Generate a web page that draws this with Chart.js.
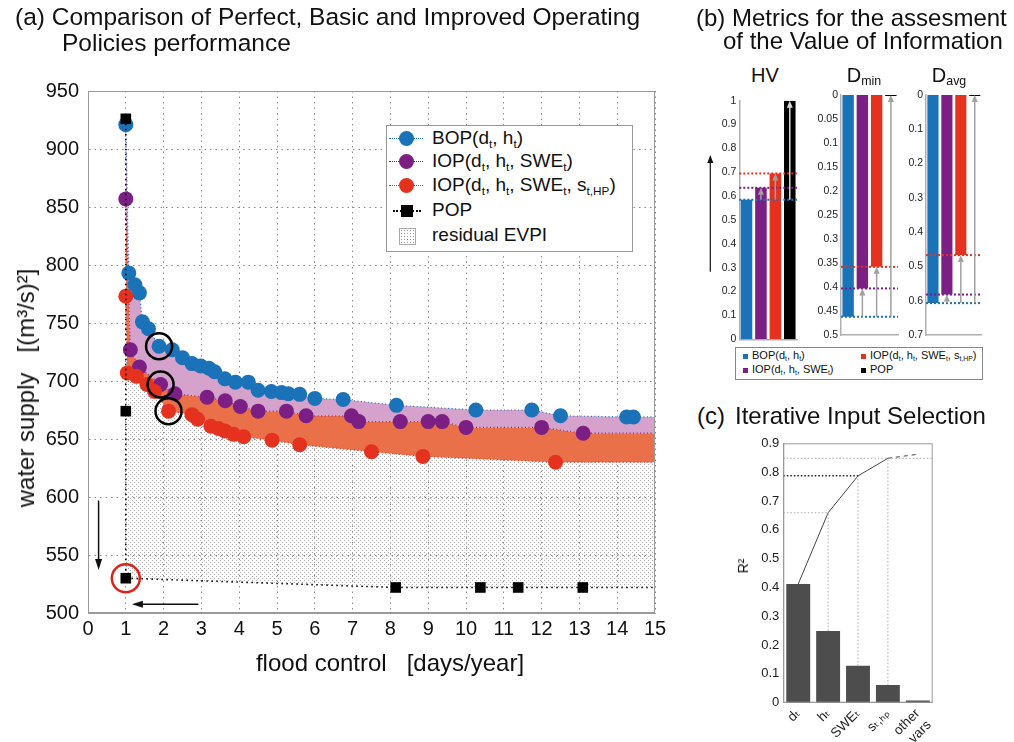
<!DOCTYPE html>
<html><head><meta charset="utf-8">
<script src="https://cdn.jsdelivr.net/npm/chart.js@4.4.0/dist/chart.umd.min.js"></script>
<style>
body{margin:0;width:1014px;height:742px;position:relative;background:#fff;font-family:"Liberation Sans","DejaVu Sans",Arial,sans-serif;overflow:hidden}
canvas{position:absolute}
.t{position:absolute;white-space:nowrap;color:#111}
sub{font-size:62%;vertical-align:-0.3em;line-height:0}
.leg{position:absolute;background:#fff;border:1px solid #999}
.row{position:absolute;white-space:nowrap;color:#111}
</style></head><body>
<canvas id="cA" width="690" height="690" style="left:0;top:0"></canvas>
<canvas id="cHV" width="112" height="260" style="left:690px;top:90px"></canvas>
<canvas id="cDmin" width="100" height="260" style="left:805px;top:85px"></canvas>
<canvas id="cDavg" width="92" height="260" style="left:895px;top:85px"></canvas>
<canvas id="cC" width="270" height="317" style="left:735px;top:425px"></canvas>

<div class="t" style="left:15px;top:4px;font-size:24.5px;line-height:26px">(a) Comparison of Perfect, Basic and Improved Operating<br><span style="padding-left:47px">Policies performance</span></div>
<div class="t" style="left:390px;top:663px;font-size:24px;transform:translate(-50%,-50%)">flood control&nbsp;&nbsp;&nbsp;[days/year]</div>
<div class="t" style="left:26px;top:388px;font-size:24px;transform:translate(-50%,-50%) rotate(-90deg)">water supply&nbsp;&nbsp;&nbsp;[(m³/s)²]</div>

<div class="leg" style="left:386px;top:125px;width:245px;height:125px">
  <div class="row" style="left:2px;top:12px;width:34px;border-top:1px dotted #1a72b8"></div>
  <div class="row" style="left:12px;top:5px;width:15px;height:15px;border-radius:50%;background:#1a72b8"></div>
  <div class="row" style="left:45px;top:1px;font-size:19px">BOP(d<sub>t</sub>, h<sub>t</sub>)</div>
  <div class="row" style="left:2px;top:35px;width:34px;border-top:1px dotted #7b1f85"></div>
  <div class="row" style="left:12px;top:28px;width:15px;height:15px;border-radius:50%;background:#7b1f85"></div>
  <div class="row" style="left:45px;top:24px;font-size:19px">IOP(d<sub>t</sub>, h<sub>t</sub>, SWE<sub>t</sub>)</div>
  <div class="row" style="left:2px;top:59px;width:34px;border-top:1px dotted #e5321f"></div>
  <div class="row" style="left:12px;top:52px;width:15px;height:15px;border-radius:50%;background:#e5321f"></div>
  <div class="row" style="left:45px;top:48px;font-size:19px">IOP(d<sub>t</sub>, h<sub>t</sub>, SWE<sub>t</sub>, s<sub>t,HP</sub>)</div>
  <div class="row" style="left:6px;top:84px;width:28px;border-top:2px dotted #000"></div>
  <div class="row" style="left:14px;top:79px;width:12px;height:12px;background:#000"></div>
  <div class="row" style="left:45px;top:73px;font-size:19px">POP</div>
  <div class="row" style="left:12px;top:102px;width:15px;height:15px;border:1px solid #aaa;background-image:radial-gradient(#999 0.7px,transparent 0.9px);background-size:3px 3px"></div>
  <div class="row" style="left:45px;top:98px;font-size:19px">residual EVPI</div>
</div>

<div class="t" style="left:696px;top:6px;font-size:24px;line-height:23px">(b) Metrics for the assesment<br><span style="padding-left:27px">of the Value of Information</span></div>
<div class="t" style="left:765px;top:75px;font-size:20px;transform:translate(-50%,-50%)">HV</div>
<div class="t" style="left:864px;top:75px;font-size:20px;transform:translate(-50%,-50%)">D<sub>min</sub></div>
<div class="t" style="left:949px;top:75px;font-size:20px;transform:translate(-50%,-50%)">D<sub>avg</sub></div>

<div class="leg" style="left:735px;top:347px;width:246px;height:31px;border-color:#888">
  <div class="row" style="left:7px;top:6px;width:5px;height:5px;background:#1a72b8"></div>
  <div class="row" style="left:16px;top:1px;font-size:11px">BOP(d<sub>t</sub>, h<sub>t</sub>)</div>
  <div class="row" style="left:7px;top:20px;width:5px;height:5px;background:#7b1f85"></div>
  <div class="row" style="left:16px;top:15px;font-size:11px">IOP(d<sub>t</sub>, h<sub>t</sub>, SWE<sub>t</sub>)</div>
  <div class="row" style="left:125px;top:6px;width:5px;height:5px;background:#e5321f"></div>
  <div class="row" style="left:134px;top:1px;font-size:11px">IOP(d<sub>t</sub>, h<sub>t</sub>, SWE<sub>t</sub>, s<sub>t,HP</sub>)</div>
  <div class="row" style="left:125px;top:20px;width:5px;height:5px;background:#000"></div>
  <div class="row" style="left:134px;top:15px;font-size:11px">POP</div>
</div>

<div class="t" style="left:697px;top:402px;font-size:24px">(c)</div>
<div class="t" style="left:735px;top:402px;font-size:24px">Iterative Input Selection</div>
<div class="t" style="left:743px;top:566px;font-size:14px;transform:translate(-50%,-50%) rotate(-90deg)">R²</div>

<script>
// ---------------- Panel (a) data ----------------
const bopX = [1.0, 1.08, 1.24, 1.36, 1.44, 1.6, 1.88, 2.23, 2.5, 2.75, 2.98, 3.2, 3.35, 3.62, 3.9, 4.24, 4.5, 4.85, 5.12, 5.3, 5.6, 6.0, 6.75, 8.16, 10.26, 11.74, 12.5, 14.25, 14.43];
const bopY = [921, 793, 783, 776, 751, 745, 730, 727, 720, 715, 713, 711, 708, 702, 699, 699, 692, 691, 690, 689, 688.5, 685, 684, 679, 675, 675, 670, 669, 669];
const iop3X = [1.0, 1.12, 1.36, 1.92, 2.3, 3.15, 3.63, 4.03, 4.5, 5.25, 5.77, 6.97, 7.16, 8.26, 9.0, 9.37, 10.0, 12.0, 13.1];
const iop3Y = [857, 727, 712, 697, 689, 686, 683, 678, 674, 674, 670, 670, 665, 665, 665, 665, 660, 660, 655];
const iop4X = [1.0, 1.04, 1.28, 1.56, 1.76, 2.13, 2.75, 2.9, 3.25, 3.45, 3.62, 3.85, 4.12, 4.87, 5.6, 7.5, 8.86, 12.37];
const iop4Y = [773, 707, 704, 697, 691, 674, 671, 667, 661, 659, 657, 654, 652, 649, 645, 639, 635, 630];
const popX = [1, 1, 1, 8.14, 10.38, 11.38, 13.09];
const popY = [926, 674, 530, 522, 522, 522, 522];
const ringX = [1.88, 1.92, 2.13];
const ringY = [730, 697, 674];
const popRingX = [1];
const popRingY = [530];
const arrowDown = [0.28, 597, 537];   // x, from y, to y
const arrowLeft = [507.6, 2.92, 1.16]; // y, from x, to x
const xRange = [0, 15], xStep = 1;
const yRange = [500, 950], yStep = 50;

// ---------------- Panel (b) data ----------------
const policyNames = ['BOP', 'IOP(SWE)', 'IOP(SWE,s)', 'POP'];
const policyColors = ['#1a72b8', '#7b1f85', '#e5321f', '#000000'];
const hvValues = [0.585, 0.635, 0.695, 1.0];
const dminValues = [0.462, 0.403, 0.358, 0];
const davgValues = [0.607, 0.582, 0.467, 0];
const hvArrow = [0.283, 0.772];

// ---------------- Panel (c) data ----------------
const ivsLabels = ['dₜ', 'hₜ', 'SWEₜ', 'sₜ,ₕₚ', ['other', 'vars']];
const ivsR2 = [0.412, 0.249, 0.128, 0.061, 0.008];
const ivsCum = [0.412, 0.659, 0.787, 0.848, 0.862];

// ------------------------------------------------
const FONT = '"Liberation Sans","DejaVu Sans",Arial,sans-serif';
Chart.defaults.font.family = FONT;
Chart.defaults.color = '#111';
Chart.defaults.animation = false;

function pts(xs, ys) { return xs.map((x, i) => ({x, y: ys[i]})); }
function front(xs, ys) { const p = pts(xs, ys); p.push({x: xRange[1], y: ys[ys.length - 1]}); return p; }
function lowerFront(xs, ys) {
  const p = [];
  xs.forEach((x, i) => {
    const same = xs.map((xx, j) => xx === x ? ys[j] : Infinity);
    if (ys[i] === Math.min(...same)) p.push({x, y: ys[i]});
  });
  p.push({x: xRange[1], y: p[p.length - 1].y});
  return p;
}
function arrow(ctx, x1, y1, x2, y2, color, lw, hl, hw) {
  const a = Math.atan2(y2 - y1, x2 - x1), c = Math.cos(a), s = Math.sin(a);
  ctx.save();
  ctx.strokeStyle = color; ctx.fillStyle = color; ctx.lineWidth = lw; ctx.setLineDash([]);
  ctx.beginPath(); ctx.moveTo(x1, y1); ctx.lineTo(x2 - hl * 0.7 * c, y2 - hl * 0.7 * s); ctx.stroke();
  ctx.beginPath(); ctx.moveTo(x2, y2);
  ctx.lineTo(x2 - hl * c + hw * s, y2 - hl * s - hw * c);
  ctx.lineTo(x2 - hl * c - hw * s, y2 - hl * s + hw * c);
  ctx.closePath(); ctx.fill();
  ctx.restore();
}
function stipple() {
  const c = document.createElement('canvas'); c.width = 4; c.height = 4;
  const g = c.getContext('2d');
  g.fillStyle = '#ababab'; g.fillRect(0, 0, 1, 1); g.fillRect(2, 2, 1, 1);
  return g.createPattern(c, 'repeat');
}
const strip = v => String(+Number(v).toFixed(2));

// ---------------- Chart (a) ----------------
const pluginA = {
  id: 'pluginA',
  afterDatasetsDraw(chart) {
    const {ctx, chartArea: a, scales: {x, y}} = chart;
    arrow(ctx, x.getPixelForValue(arrowDown[0]), y.getPixelForValue(arrowDown[1]),
      x.getPixelForValue(arrowDown[0]), y.getPixelForValue(arrowDown[2]), '#111', 1.5, 11, 3.5);
    arrow(ctx, x.getPixelForValue(arrowLeft[1]), y.getPixelForValue(arrowLeft[0]),
      x.getPixelForValue(arrowLeft[2]), y.getPixelForValue(arrowLeft[0]), '#111', 1.5, 11, 3.5);
    ctx.save();
    ctx.strokeStyle = '#9a9a9a'; ctx.lineWidth = 1;
    ctx.strokeRect(a.left + 0.5, a.top + 0.5, a.width - 1, a.height - 1);
    ctx.restore();
  }
};
const blue = '#1a72b8', purple = '#7b1f85', red = '#e5321f';
new Chart(document.getElementById('cA'), {
  type: 'line',
  data: {datasets: [
    {data: pts(ringX, ringY), showLine: false, pointRadius: 13, pointBackgroundColor: 'rgba(0,0,0,0)', pointBorderColor: '#000', pointBorderWidth: 2.5},
    {data: pts(popRingX, popRingY), showLine: false, pointRadius: 14, pointBackgroundColor: 'rgba(0,0,0,0)', pointBorderColor: '#e0201b', pointBorderWidth: 2.5},
    {data: front(popX, popY), showLine: true, borderColor: '#000', borderWidth: 1.6, borderDash: [1.5, 3.5], fill: false,
      pointStyle: 'rect', pointRadius: c => c.dataIndex < popX.length ? 7.5 : 0, pointBackgroundColor: '#000', pointBorderWidth: 0},
    {data: pts(iop4X, iop4Y), showLine: false, pointRadius: 7.5, pointBackgroundColor: red, pointBorderColor: red, pointBorderWidth: 0},
    {data: pts(iop3X, iop3Y), showLine: false, pointRadius: 7.5, pointBackgroundColor: purple, pointBorderColor: purple, pointBorderWidth: 0},
    {data: pts(bopX, bopY), showLine: false, pointRadius: 7.5, pointBackgroundColor: blue, pointBorderColor: blue, pointBorderWidth: 0},
    {data: front(bopX, bopY), showLine: true, pointRadius: 0, borderColor: blue, borderWidth: 1.2, borderDash: [1, 2.5], fill: '+1', backgroundColor: '#d4a2ca'},
    {data: front(iop3X, iop3Y), showLine: true, pointRadius: 0, borderColor: purple, borderWidth: 1.2, borderDash: [1, 2.5], fill: '+1', backgroundColor: '#ea7049'},
    {data: front(iop4X, iop4Y), showLine: true, pointRadius: 0, borderColor: red, borderWidth: 1.2, borderDash: [1, 2.5], fill: '+1', backgroundColor: stipple()},
    {data: lowerFront(popX, popY), showLine: true, pointRadius: 0, borderWidth: 0, borderColor: 'rgba(0,0,0,0)', fill: false}
  ]},
  options: {
    responsive: false, events: [],
    layout: {padding: {left: 0, top: 91, right: 35, bottom: 0}},
    plugins: {legend: {display: false}, tooltip: {enabled: false}, filler: {drawTime: 'beforeDatasetsDraw', propagate: false}},
    scales: {
      x: {type: 'linear', min: xRange[0], max: xRange[1],
        ticks: {stepSize: xStep, font: {size: 20}, color: '#111', padding: 4, autoSkip: false},
        grid: {color: '#8a8a8a', drawTicks: false}, border: {color: '#9a9a9a', dash: [1.5, 4]},
        afterFit: s => { s.height = 77; }},
      y: {type: 'linear', min: yRange[0], max: yRange[1],
        ticks: {stepSize: yStep, font: {size: 20}, color: '#111', padding: 9, autoSkip: false},
        grid: {color: '#8a8a8a', drawTicks: false}, border: {color: '#9a9a9a', dash: [1.5, 4]},
        afterFit: s => { s.width = 88; }}
    }
  },
  plugins: [pluginA]
});

// ---------------- Charts (b) ----------------
function makeB(id, values, max, step, reverse, yw, padTop, padRight, xh, isHV) {
  const plug = {
    id: 'plug' + id,
    afterDatasetsDraw(chart) {
      const {ctx, chartArea: a, scales: {x, y}} = chart;
      ctx.save();
      for (let i = 0; i < 3; i++) {
        const py = y.getPixelForValue(values[i]);
        ctx.strokeStyle = policyColors[i]; ctx.lineWidth = 2; ctx.setLineDash([2, 2]);
        ctx.beginPath(); ctx.moveTo(a.left, py); ctx.lineTo(a.right, py); ctx.stroke();
      }
      ctx.restore();
      for (let i = 1; i < 4; i++) {
        const px = x.getPixelForValue(i);
        const col = (isHV && i === 3) ? '#d8d8d8' : '#a0a0a0';
        arrow(ctx, px, y.getPixelForValue(values[0]), px, y.getPixelForValue(values[i]), col, 1.5, 7, 3);
      }
      if (isHV) {
        arrow(ctx, a.left - 29, y.getPixelForValue(hvArrow[0]), a.left - 29, y.getPixelForValue(hvArrow[1]), '#111', 1.2, 8, 3);
      }
    }
  };
  new Chart(document.getElementById(id), {
    type: 'bar',
    data: {labels: policyNames, datasets: [{data: values, backgroundColor: policyColors, borderWidth: 0,
      barPercentage: 0.8, categoryPercentage: 1, minBarLength: 2}]},
    options: {
      responsive: false, events: [],
      layout: {padding: {left: 0, top: padTop, right: padRight, bottom: 0}},
      plugins: {legend: {display: false}, tooltip: {enabled: false}},
      scales: {
        x: {grid: {display: false, drawTicks: false}, ticks: {display: false}, border: {color: '#b0b0b0', width: 1.5},
          afterFit: s => { s.height = xh; }},
        y: {min: 0, max: max, reverse: reverse,
          ticks: {stepSize: step, font: {size: 10.5}, color: '#222', padding: 3, autoSkip: false, callback: strip},
          grid: {display: false, drawTicks: false}, border: {color: '#b0b0b0', width: 1.5},
          afterFit: s => { s.width = yw; }}
      }
    },
    plugins: [plug]
  });
}
makeB('cHV', hvValues, 1, 0.1, false, 49.3, 10.7, 5, 10.7, true);
makeB('cDmin', dminValues, 0.5, 0.05, true, 36, 10, 7, 10, false);
makeB('cDavg', davgValues, 0.7, 0.1, true, 31, 10, 5.3, 10, false);

// ---------------- Chart (c) ----------------
const pluginC = {
  id: 'pluginC',
  afterDatasetsDraw(chart) {
    const {ctx, chartArea: a, scales: {x, y}} = chart;
    ctx.save();
    ctx.lineWidth = 1;
    for (let i = 1; i < 4; i++) {
      const px = x.getPixelForValue(i);
      const yb = y.getPixelForValue(ivsR2[i]), yt = y.getPixelForValue(ivsCum[i]);
      ctx.setLineDash([1.5, 2]); ctx.strokeStyle = '#a8a8a8';
      ctx.beginPath(); ctx.moveTo(px, yb); ctx.lineTo(px, yt); ctx.stroke();
      ctx.strokeStyle = i === 2 ? '#222' : '#a8a8a8';
      ctx.lineWidth = i === 2 ? 1.5 : 1;
      ctx.beginPath(); ctx.moveTo(a.left, yt); ctx.lineTo(i === 3 ? a.right : px, yt); ctx.stroke();
      ctx.lineWidth = 1;
    }
    ctx.setLineDash([]);
    ctx.strokeStyle = '#9a9a9a';
    ctx.strokeRect(a.left + 0.5, a.top + 0.5, a.width - 1, a.height - 1);
    ctx.restore();
  }
};
new Chart(document.getElementById('cC'), {
  type: 'bar',
  data: {labels: ivsLabels, datasets: [
    {type: 'line', data: ivsCum, borderColor: '#444', borderWidth: 1, pointRadius: 0, order: 0,
      segment: {borderDash: c => c.p1DataIndex === ivsCum.length - 1 ? [4, 4] : undefined}},
    {type: 'bar', data: ivsR2, backgroundColor: '#4d4d4d', borderWidth: 0, barPercentage: 0.8, categoryPercentage: 1, order: 1}
  ]},
  options: {
    responsive: false, events: [],
    layout: {padding: {left: 0, top: 18.3, right: 72.3, bottom: 0}},
    plugins: {legend: {display: false}, tooltip: {enabled: false}},
    scales: {
      x: {grid: {display: false, drawTicks: false}, border: {color: '#9a9a9a'},
        ticks: {minRotation: 45, maxRotation: 45, font: {size: 13.5}, color: '#222', padding: 3, autoSkip: false},
        afterFit: s => { s.height = 39.3; }},
      y: {min: 0, max: 0.9, grid: {display: false, drawTicks: false}, border: {color: '#9a9a9a'},
        ticks: {stepSize: 0.1, font: {size: 13}, color: '#222', padding: 4, autoSkip: false, callback: strip},
        afterFit: s => { s.width = 48.3; }}
    }
  },
  plugins: [pluginC]
});
</script>
</body></html>
